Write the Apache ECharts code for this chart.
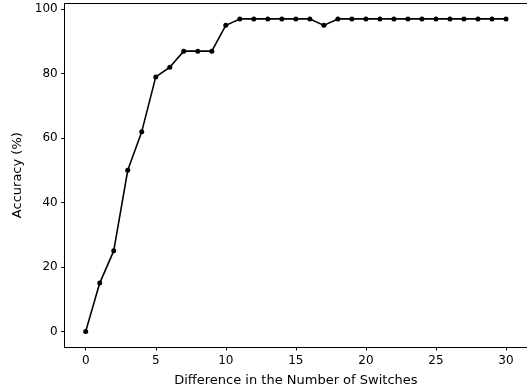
<!DOCTYPE html>
<html><head><meta charset="utf-8">
<script src="https://cdn.jsdelivr.net/npm/echarts@6/dist/echarts.min.js"></script>
<style>html,body{margin:0;padding:0;background:#fff}#c{width:527px;height:392px}</style>
</head><body><div id="c"></div>
<script>
const xValues = [0,1,2,3,4,5,6,7,8,9,10,11,12,13,14,15,16,17,18,19,20,21,22,23,24,25,26,27,28,29,30];
const accuracy = [0,15,25,50,62,79,82,87,87,87,95,97,97,97,97,97,97,95,97,97,97,97,97,97,97,97,97,97,97,97,97];
const xTicks = [0,5,10,15,20,25,30];
const yTicks = [0,20,40,60,80,100];
const xTitle = 'Difference in the Number of Switches';
const yTitle = 'Accuracy (%)';

const font = 'DejaVu Sans';
const chart = echarts.init(document.getElementById('c'), null, {renderer:'canvas'});
chart.setOption({
  animation:false,
  grid:{left:64.7, right:0, top:3.3, bottom:43.7, show:false},
  xAxis:[{type:'value', min:-1.5, max:31.5,
    name:xTitle, nameLocation:'middle', nameGap:27,
    nameTextStyle:{fontFamily:font, fontSize:13, color:'#000'},
    axisLine:{show:true, onZero:false, lineStyle:{color:'#000', width:1}},
    axisTick:{show:true, length:3.5, inside:false, customValues:xTicks, lineStyle:{color:'#000'}},
    axisLabel:{customValues:xTicks, fontFamily:font, fontSize:12, color:'#000', margin:7.5},
    splitLine:{show:false}},
   {type:'value', position:'top', min:-1.5, max:31.5,
    axisLine:{show:true, onZero:false, lineStyle:{color:'#000', width:1}},
    axisTick:{show:false}, axisLabel:{show:false}, splitLine:{show:false}}],
  yAxis:{type:'value', min:-4.85, max:101.85,
    name:yTitle, nameLocation:'middle', nameGap:39, nameRotate:90,
    nameTextStyle:{fontFamily:font, fontSize:13, color:'#000'},
    axisLine:{show:true, onZero:false, lineStyle:{color:'#000', width:1}},
    axisTick:{show:true, length:3.5, customValues:yTicks, lineStyle:{color:'#000'}},
    axisLabel:{customValues:yTicks, fontFamily:font, fontSize:12, color:'#000', margin:7},
    splitLine:{show:false}},
  series:[{type:'line', xAxisIndex:0, data:xValues.map((x,i)=>[x,accuracy[i]]),
    symbol:'circle', symbolSize:5, showAllSymbol:true,
    lineStyle:{color:'#000', width:1.6}, itemStyle:{color:'#000'}}]
});
</script></body></html>
